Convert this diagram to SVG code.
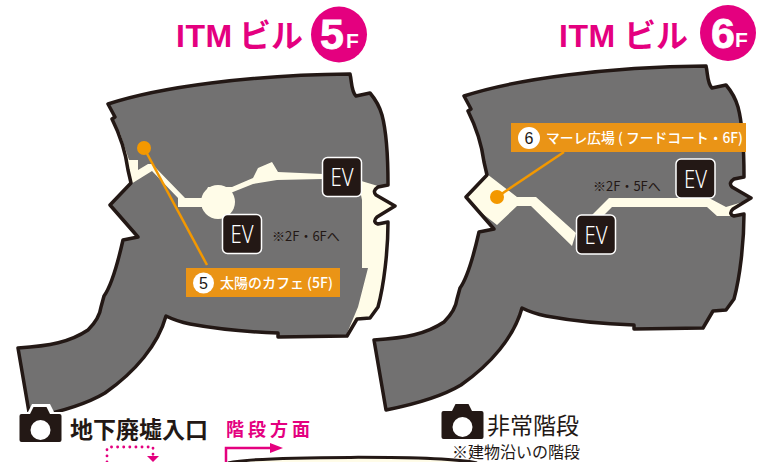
<svg xmlns="http://www.w3.org/2000/svg" xmlns:xlink="http://www.w3.org/1999/xlink" width="764" height="462" viewBox="0 0 764 462">
<style>
text{font-family:"Noto Sans CJK JP","Liberation Sans",sans-serif}
.bg{fill:#fff}
.hall{fill:#727171}
.line{fill:none;stroke:#231815;stroke-width:3.5;stroke-linejoin:round}
.cream{fill:#fffce8}
.evb{fill:#231815;stroke:#fff;stroke-width:1.5}
.evt{fill:#fff;font-family:"Noto Sans","Liberation Sans",sans-serif;font-weight:300;font-size:25px;text-anchor:middle}
.lab{fill:#ea9416}
.dot{fill:#f39800}
.lead{stroke:#f39800;stroke-width:2.5;fill:none}
.lt{fill:#fff;font-size:14px;font-weight:500}
.num{fill:#231815;font-size:16px;font-weight:500;text-anchor:middle;font-family:"Liberation Sans",sans-serif}
.note{fill:#231815;font-size:13px}
.pk{fill:#e4007f}
.ti{fill:#e4007f;font-weight:700;font-size:32px}
.tl{fill:#e4007f;font-family:"Liberation Sans",sans-serif;font-weight:700;font-size:32px;letter-spacing:.5px}
.big{fill:#fff;stroke:#fff;stroke-width:.8;font-family:"Liberation Sans",sans-serif;font-weight:700;font-size:43px}
.sm{fill:#fff;font-family:"Liberation Sans",sans-serif;font-weight:700;font-size:21px}
.dk{fill:#231815}
</style>
<defs>
<path id="hall" d="M108 104 C160 87 250 75 350 74 C352 82 351 91 356 96 L370 93 C376 100 380 108 382 115 C386 130 388 160 388 185 L378 187 Q372 191 376 195 L395 206 L377 217 Q372 222 378 224 L388 222 C388 250 384 285 378 307 L370 318 L357 319 L347 336 L278 337 L278 333 C250 332 217 329 190 324 C180 322 172 319 166 316 C158 345 135 372 105 393 C85 405 60 412 30 418 L18 348 C50 346 70 342 88 330 C96 322 100 315 101 307 L104 296 C112 285 118 262 123 240 L138 237 L110 205 L131 183 L128 170 C126 155 120 135 112 119 L115 117 Z"/>
<clipPath id="hc"><use xlink:href="#hall" href="#hall"/></clipPath>
<g id="cam"><rect x="0" y="7" width="42" height="28" rx="2" class="dk"/><path d="M10 8 L14 0 H27 L31 8 Z" class="dk"/><circle cx="21" cy="23" r="10" fill="#fff"/></g>
</defs>
<rect width="764" height="462" class="bg"/>
<g id="building-5f">
<use href="#hall" class="hall"/>
<g clip-path="url(#hc)" class="cream">
<path d="M119 130 L129 160 H138 V170 L148 164 H152 L185 198 H203 L208 187 H232 L253 178 L258 168 L272 162 L278 172 L323 174 V179 L277 180 L253 184 L233 192 L202 207 H178 V198 L152 171 L131 184 Z"/>
<circle cx="218" cy="202" r="17"/>
<path d="M358 180 L378 186 L400 206 L392 340 L345 338 L358 307 L368 268 H362 V200 Z"/>
</g>
<use href="#hall" class="line"/>
</g>
<g id="building-6f" transform="translate(356 -8)">
<use href="#hall" class="hall"/>
<g clip-path="url(#hc)" class="cream">
<path d="M131 182 L161 205 H180 L220 241 L216 254 L175 214 H161 L141 233 L105 205 Z"/>
<path d="M236 223 L253 206 H353 L370 215 L400 206 L385 224 H361 L351 215 H256 L246 225 Z"/>
</g>
<use href="#hall" class="line"/>
</g>
<g id="title-5f">
<text x="176" y="47" class="tl">ITM</text><text x="239" y="47" class="ti">ビル</text>
<circle cx="339" cy="34.5" r="28" class="pk"/>
<text x="320" y="49" class="big">5</text><text x="346" y="48" class="sm">F</text>
</g>
<g id="title-6f">
<text x="559" y="47" class="tl">ITM</text><text x="624" y="47" class="ti">ビル</text>
<circle cx="728" cy="33" r="28" class="pk"/>
<text x="711" y="48" class="big">6</text><text x="735" y="47" class="sm">F</text>
</g>
<g id="connectors">
<path d="M144 148 L207 265" class="lead"/>
<path d="M497 197 L564 152" class="lead"/>
</g>
<g id="ev-1"><rect x="222.500" y="214.500" width="39" height="39" rx="5" class="evb"/><text x="242" y="243" class="evt" textLength="23" lengthAdjust="spacingAndGlyphs">EV</text></g>
<g id="ev-2"><rect x="322.500" y="157.500" width="39" height="39" rx="5" class="evb"/><text x="342" y="186" class="evt" textLength="23" lengthAdjust="spacingAndGlyphs">EV</text></g>
<g id="ev-3"><rect x="576.500" y="215" width="39" height="39" rx="5" class="evb"/><text x="596" y="243.500" class="evt" textLength="23" lengthAdjust="spacingAndGlyphs">EV</text></g>
<g id="ev-4"><rect x="676" y="159" width="39" height="39" rx="5" class="evb"/><text x="695.500" y="187.500" class="evt" textLength="23" lengthAdjust="spacingAndGlyphs">EV</text></g>
<text x="272" y="240.500" class="note">※2F・6Fへ</text>
<text x="593" y="191" class="note">※2F・5Fへ</text>
<g id="label-5"><circle cx="144" cy="148" r="7" class="dot"/><rect x="186" y="268" width="154" height="29" class="lab"/><circle cx="203.500" cy="283" r="10.500" fill="#fff"/><text x="203.500" y="288.500" class="num">5</text><text x="220" y="288" class="lt" textLength="113">太陽のカフェ (5F)</text></g>
<g id="label-6"><circle cx="497" cy="197" r="7" class="dot"/><rect x="511" y="123" width="235" height="29" class="lab"/><circle cx="529" cy="138" r="11" fill="#fff"/><text x="529" y="143.500" class="num">6</text><text x="546" y="143" class="lt" textLength="197" lengthAdjust="spacingAndGlyphs">マーレ広場 ( フードコート・6F)</text></g>
<g id="entrance">
<path d="M17 442 V412 H28 L32 404 H50 L54 412 H63 V442 Z" fill="#fff"/>
<use href="#cam" transform="translate(19.500 407)"/>
<text x="70" y="438" font-size="23" font-weight="700" style="fill:#231815">地下廃墟入口</text>
</g>
<g id="stairs">
<use href="#cam" transform="translate(441.500 404)"/>
<text x="487" y="434" font-size="23" font-weight="400" style="fill:#231815">非常階段</text>
<text x="452" y="458" font-size="16" font-weight="400" style="fill:#231815">※建物沿いの階段</text>
</g>
<g id="stairs-dir">
<text x="226" y="435.500" font-size="18" font-weight="700" letter-spacing="4" style="fill:#e4007f">階段方面</text>
<path d="M226 462 V448 H273" fill="none" stroke="#e4007f" stroke-width="2.500"/>
<path d="M270 443 L283 448 L270 453 Z" class="pk"/>
<path d="M107 462 V449 Q107 447 109 447 H153 V455" fill="none" stroke="#e4007f" stroke-width="2.800" stroke-dasharray="0.100 6" stroke-linecap="round"/>
<path d="M147 456 H159 L153 462 Z" class="pk"/>
<path d="M228 463 C260 456 440 455 477 463" fill="#fffce8" stroke="#231815" stroke-width="3"/>
</g>
</svg>
